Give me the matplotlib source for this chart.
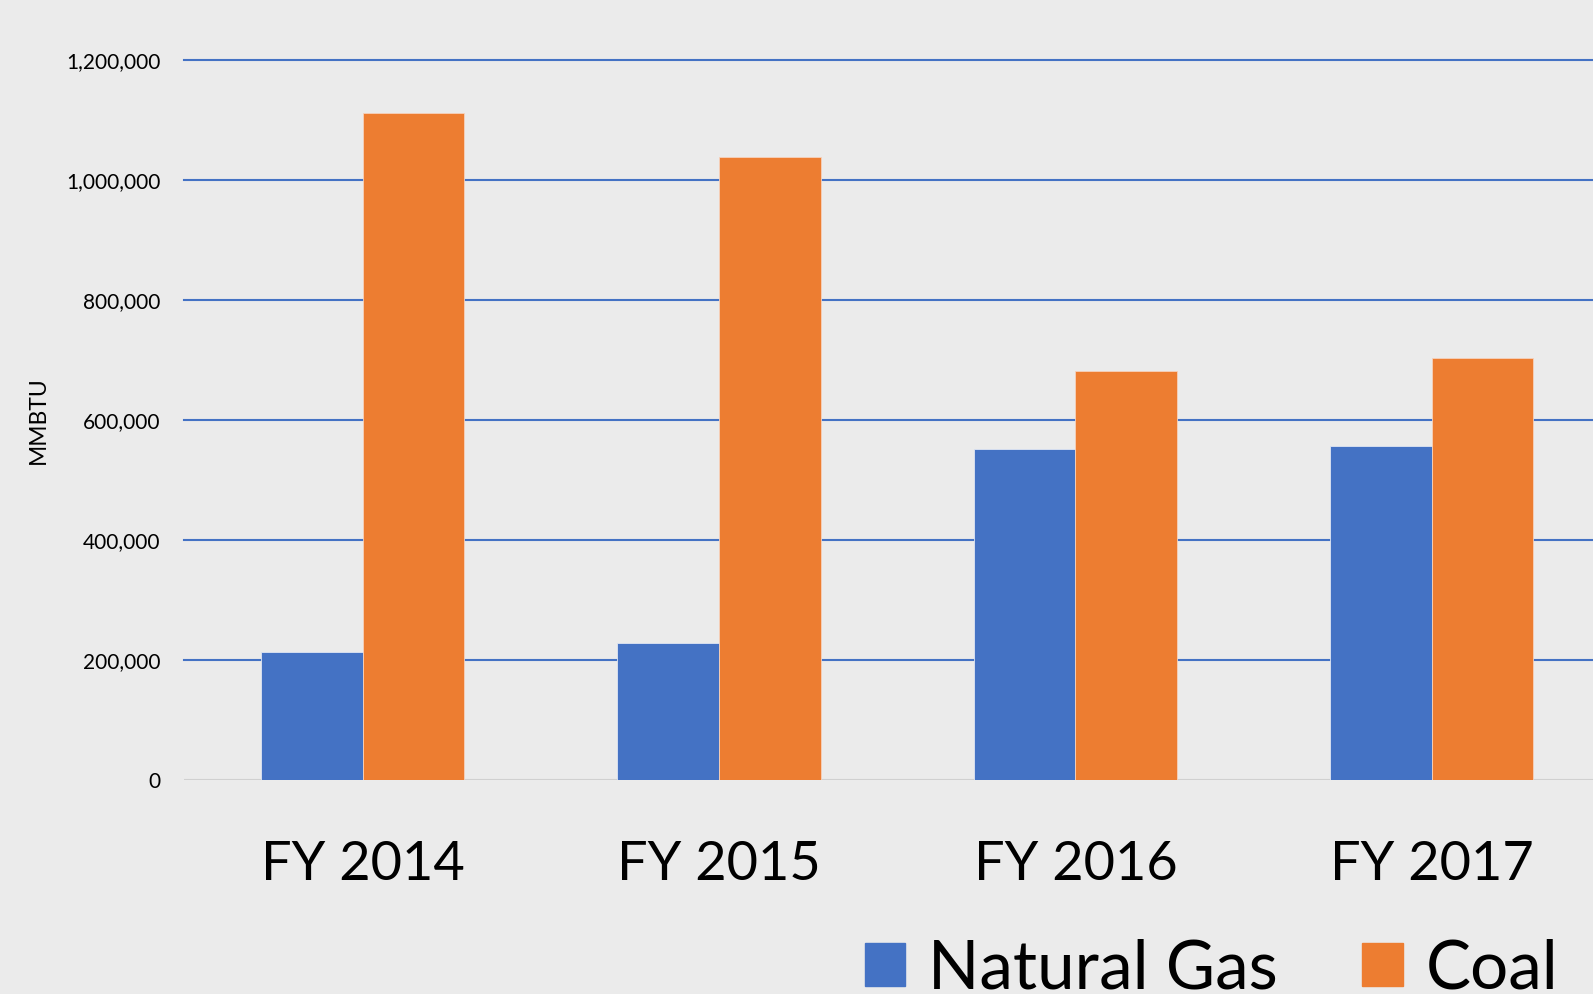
import matplotlib
matplotlib.use("Agg")
import matplotlib.pyplot as plt
import numpy as np
from matplotlib.ticker import FuncFormatter
from matplotlib.patches import Patch

categories = ["FY 2014", "FY 2015", "FY 2016", "FY 2017"]
natural_gas = [213000, 228000, 552000, 557000]
coal = [1111000, 1039000, 682000, 704000]
series_names = ["Natural Gas", "Coal"]
colors = ["#4472C4", "#ED7D31"]
yticks = [0, 200000, 400000, 600000, 800000, 1000000, 1200000]

plt.rcParams['font.family'] = ['Lato', 'DejaVu Sans']

bg = "#EBEBEB"
fig = plt.figure(figsize=(15.93, 9.94), dpi=100, facecolor=bg)
ax = fig.add_axes([184/1593, 214/994, 1 - 184/1593, (780-60)/994])
ax.set_facecolor(bg)

x = np.arange(len(categories))
w = 0.285
ax.bar(x - w/2, natural_gas, w, color=colors[0], edgecolor="#dfe6f3", linewidth=0.6, zorder=3)
ax.bar(x + w/2, coal, w, color=colors[1], edgecolor="#f6d2bc", linewidth=0.6, zorder=3)

ax.set_xlim(-0.501, 3.452)
ax.set_ylim(0, 1200000)
ax.set_yticks(yticks)
ax.yaxis.set_major_formatter(FuncFormatter(lambda v, p: f"{int(v):,}"))
for t in yticks[1:]:
    ax.axhline(t, color="#4472C4", linewidth=1.5, zorder=1, clip_on=False)
ax.axhline(0, color="#D0D0D0", linewidth=1.5, zorder=2)

for s in ax.spines.values():
    s.set_visible(False)
ax.tick_params(axis='y', length=0, pad=17, labelsize=15)
ax.tick_params(axis='x', length=0, pad=43, labelsize=39)
ax.set_xticks(x)
ax.set_xticklabels(categories)
ax.set_ylabel("MMBTU", fontsize=16.5)
ax.yaxis.set_label_coords((49-184)/1409, 0.5)

handles = [Patch(color=c) for c in colors]
fig.legend(handles, series_names, loc="lower left", bbox_to_anchor=(838/1593, -33/994),
           ncol=2, frameon=False, fontsize=48.5, handlelength=0.6, handleheight=0.6,
           handletextpad=0.34, columnspacing=1.25, borderaxespad=0)

fig.savefig("out.png", dpi=100, facecolor=bg)
